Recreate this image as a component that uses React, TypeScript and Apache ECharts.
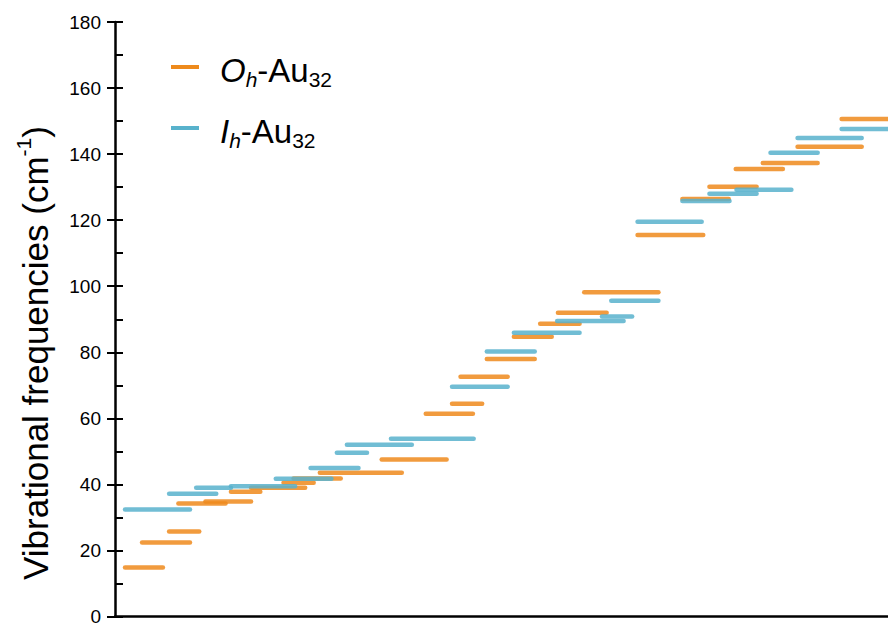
import React, { useEffect, useRef } from "react";
import * as echarts from "echarts";

// x positions are in relative plot units (0..100), y values in cm^-1
const ohStart = [1.3, 3.5, 7.0, 8.2, 11.7, 15.0, 17.6, 21.8, 23.1, 26.5, 34.5, 40.2, 43.6, 44.7, 48.1, 51.6, 55.0, 57.3, 60.7, 67.6, 73.4, 76.9, 80.3, 83.8, 88.3, 94.0];
const ohEnd = [6.2, 9.7, 10.9, 14.3, 17.6, 18.8, 24.6, 25.7, 29.2, 37.1, 42.9, 46.3, 47.5, 50.8, 54.3, 56.5, 60.1, 63.6, 70.3, 76.1, 79.4, 83.0, 86.4, 90.9, 96.6, 101];
const ohFreq = [14.8, 22.4, 25.7, 34.2, 34.8, 37.8, 39.0, 40.5, 41.8, 43.5, 47.5, 61.4, 64.4, 72.6, 78.0, 84.7, 88.6, 92.0, 98.2, 115.5, 126.4, 130.1, 135.5, 137.3, 142.2, 150.6];

const ihStart = [1.3, 7.0, 10.5, 15.0, 20.8, 25.3, 28.7, 30.0, 35.7, 43.6, 48.1, 51.6, 57.2, 63.0, 64.2, 67.6, 73.4, 76.9, 80.4, 84.8, 88.3, 94.0];
const ihEnd = [9.7, 13.1, 15.0, 23.3, 28.0, 31.5, 32.6, 38.4, 46.4, 50.8, 54.3, 60.1, 65.8, 66.9, 70.3, 75.9, 79.5, 83.0, 87.5, 90.9, 96.6, 101];
const ihFreq = [32.4, 37.2, 39.0, 39.4, 41.7, 45.0, 49.6, 52.0, 53.8, 69.6, 80.2, 85.9, 89.5, 90.8, 95.6, 119.5, 125.8, 128.0, 129.2, 140.4, 144.9, 147.6];

const ORANGE = "#EE8A1C";
const BLUE = "#58B2CC";
const FONT = "Liberation Sans, Arial, sans-serif";

function seg(start: number[], end: number[], freq: number[]) {
  return freq.map((f, i) => [start[i], end[i], f]);
}

function makeRender(color: string) {
  return (params: any, api: any) => {
    const y = api.value(2);
    const p1 = api.coord([api.value(0), y]);
    const p2 = api.coord([api.value(1), y]);
    return {
      type: "line",
      shape: { x1: p1[0], y1: p1[1], x2: p2[0], y2: p2[1] },
      style: { stroke: color, lineWidth: 4.5, lineCap: "round", opacity: 0.85 },
    };
  };
}

export default function App() {
  const ref = useRef<HTMLDivElement>(null);
  useEffect(() => {
    if (!ref.current) return;
    const chart = echarts.init(ref.current, null, { renderer: "svg" });
    const legendRich = {
      i: { fontStyle: "italic", fontSize: 33, fontFamily: FONT, color: "#000", lineHeight: 40, verticalAlign: "bottom" },
      n: { fontSize: 33, fontFamily: FONT, color: "#000", lineHeight: 40, verticalAlign: "bottom" },
      si: { fontStyle: "italic", fontSize: 21, fontFamily: FONT, color: "#000", lineHeight: 16, verticalAlign: "bottom", padding: [0, 0, -3, 0] },
      s: { fontSize: 21, fontFamily: FONT, color: "#000", lineHeight: 16, verticalAlign: "bottom", padding: [0, 0, -3, 0] },
    };
    chart.setOption({
      animation: false,
      backgroundColor: "#fff",
      grid: { left: 115, right: 0, top: 22, bottom: 9, containLabel: false },
      legend: {
        orient: "vertical",
        left: 166,
        top: 49,
        itemGap: 25,
        itemWidth: 28,
        itemHeight: 4,
        icon: "rect",
        data: ["Oh", "Ih"],
        formatter: (name: string) =>
          name === "Oh" ? "{i|O}{si|h}{n|-Au}{s|32}" : "{i|I}{si|h}{n|-Au}{s|32}",
        textStyle: { rich: legendRich, padding: [0, 0, 0, 16] },
      },
      xAxis: {
        type: "value",
        min: 0,
        max: 100,
        axisLine: { show: true, onZero: false, lineStyle: { color: "#000", width: 2.5 } },
        axisTick: { show: false },
        axisLabel: { show: false },
        splitLine: { show: false },
      },
      yAxis: [
        {
          type: "value",
          min: 0,
          max: 180,
          interval: 20,
          axisLine: { show: true, lineStyle: { color: "#000", width: 2.5 } },
          axisTick: { show: true, inside: true, length: 8, lineStyle: { color: "#000", width: 2 } },
          minorTick: { show: true, splitNumber: 2, length: 8, lineStyle: { color: "#000", width: 2 } },
          axisLabel: { show: false },
          splitLine: { show: false },
        },
        {
          type: "value",
          min: 0,
          max: 180,
          interval: 20,
          position: "left",
          axisLine: { show: false },
          axisTick: { show: true, inside: false, length: 8, lineStyle: { color: "#000", width: 2 } },
          axisLabel: { show: true, fontSize: 19, fontFamily: FONT, color: "#000", margin: 14 },
          splitLine: { show: false },
        },
      ],
      graphic: [
        {
          type: "text",
          x: 33,
          y: 353,
          rotation: Math.PI / 2,
          style: {
            text: "{n|Vibrational frequencies (cm}{s|-1}{n|)}",
            align: "center",
            verticalAlign: "middle",
            rich: {
              n: { fontSize: 35, fontFamily: FONT, fill: "#000", lineHeight: 40, verticalAlign: "bottom" },
              s: { fontSize: 21, fontFamily: FONT, fill: "#000", lineHeight: 40, verticalAlign: "top" },
            },
          },
        },
      ],
      series: [
        {
          name: "Oh",
          type: "custom",
          renderItem: makeRender(ORANGE),
          itemStyle: { color: ORANGE },
          encode: { x: [0, 1], y: 2 },
          clip: true,
          data: seg(ohStart, ohEnd, ohFreq),
        },
        {
          name: "Ih",
          type: "custom",
          renderItem: makeRender(BLUE),
          itemStyle: { color: BLUE },
          encode: { x: [0, 1], y: 2 },
          clip: true,
          data: seg(ihStart, ihEnd, ihFreq),
        },
      ],
    });
    return () => chart.dispose();
  }, []);
  return (
    <div
      ref={ref}
      style={{ position: "absolute", left: 0, top: 0, width: 888, height: 626 }}
    />
  );
}
